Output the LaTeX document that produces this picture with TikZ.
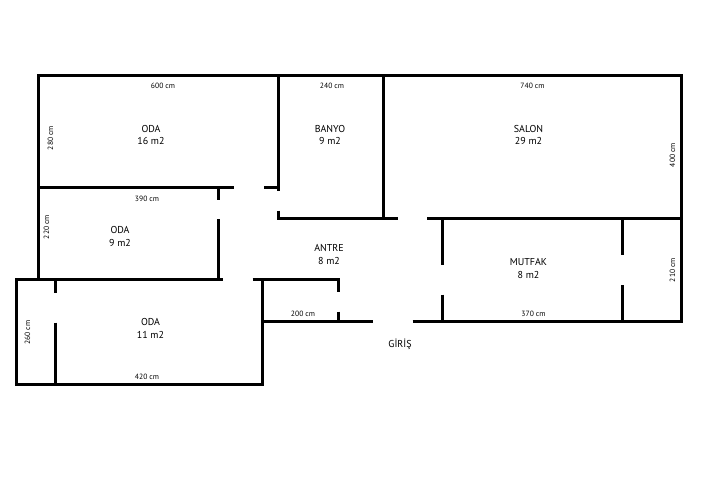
\documentclass[tikz,border=0pt]{standalone}
\usepackage{fontspec}
\setmainfont{PT Sans}
\tikzset{
  wall/.style={line width=3pt,line cap=butt,black},
  roomlabel/.style={align=center,inner sep=0pt,font=\fontsize{10}{12.3}\selectfont,text=black},
  dimlabel/.style={inner sep=0pt,font=\fontsize{7.6}{8}\selectfont,text=black}
}
\begin{document}
\begin{tikzpicture}[x=1pt,y=-1pt]
\useasboundingbox (0,0) rectangle (720,480);
\fill[white] (0,0) rectangle (720,480);
% outer upper walls
\draw[wall] (37,75.5) -- (682.5,75.5);
\draw[wall] (38.5,75.5) -- (38.5,280);
\draw[wall] (681,75.5) -- (681,322.5);
% room partitions
\draw[wall] (38,187.3) -- (234,187.3);
\draw[wall] (264,187.3) -- (280,187.3);
\draw[wall] (278.5,75.5) -- (278.5,191);
\draw[wall] (218.7,187.3) -- (218.7,200);
\draw[wall] (218.7,219) -- (218.7,280);
\draw[wall] (278.5,210.5) -- (278.5,218.7);
\draw[wall] (277,218.7) -- (397.5,218.7);
\draw[wall] (383,75.5) -- (383,218.7);
\draw[wall] (427,218.7) -- (681,218.7);
\draw[wall] (442.5,218.7) -- (442.5,265);
\draw[wall] (442.5,294.7) -- (442.5,321);
\draw[wall] (622,218.7) -- (622,255);
\draw[wall] (622,285) -- (622,321);
% lower left room
\draw[wall] (15,279.6) -- (222.5,279.6);
\draw[wall] (16.5,278.1) -- (16.5,385.5);
\draw[wall] (15,384) -- (263.5,384);
\draw[wall] (262,278.1) -- (262,385.5);
\draw[wall] (252.5,279.6) -- (339.5,279.6);
\draw[wall] (55,279.6) -- (55,292.8);
\draw[wall] (55,322.5) -- (55,384);
\draw[wall] (338,279.6) -- (338,292);
\draw[wall] (338,311.5) -- (338,321);
% entrance wall
\draw[wall] (262,321) -- (372.5,321);
\draw[wall] (412.5,321) -- (682.5,321);
% room labels
\node[roomlabel] (oda1) at (151,135) {ODA\\16 m2};
\node[roomlabel] (banyo) at (330,135) {BANYO\\9 m2};
\node[roomlabel] (salon) at (528.5,135) {SALON\\29 m2};
\node[roomlabel] (oda2) at (120,236.5) {ODA\\9 m2};
\node[roomlabel] (antre) at (329,254.5) {ANTRE\\8 m2};
\node[roomlabel] (mutfak) at (528.5,268.5) {MUTFAK\\8 m2};
\node[roomlabel] (oda3) at (150.5,328.5) {ODA\\11 m2};
\node[roomlabel] (giris) at (400,344) {GİRİŞ};
% dimensions
\node[dimlabel] (d600) at (163,86) {600 cm};
\node[dimlabel] (d240) at (332,86) {240 cm};
\node[dimlabel] (d740) at (532.5,86) {740 cm};
\node[dimlabel] (d390) at (147,199) {390 cm};
\node[dimlabel] (d200) at (303,313.5) {200 cm};
\node[dimlabel] (d370) at (533.5,313.5) {370 cm};
\node[dimlabel] (d420) at (147,376.5) {420 cm};
\node[dimlabel,rotate=90] (d280) at (50.5,138) {280 cm};
\node[dimlabel,rotate=90] (d220) at (46.5,227) {220 cm};
\node[dimlabel,rotate=90] (d260) at (27.5,332.5) {260 cm};
\node[dimlabel,rotate=90] (d400) at (672.5,155) {400 cm};
\node[dimlabel,rotate=90] (d210) at (672.5,270) {210 cm};
\end{tikzpicture}
\end{document}
